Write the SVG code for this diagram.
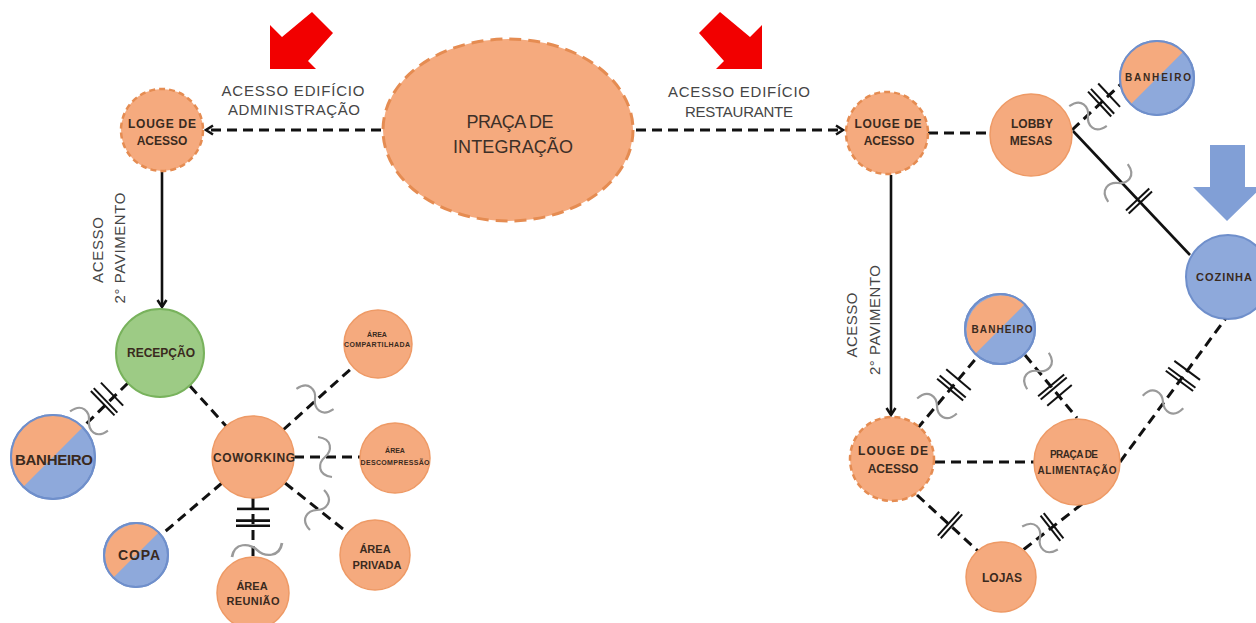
<svg xmlns="http://www.w3.org/2000/svg" width="1256" height="623" viewBox="0 0 1256 623">
<style>
text{font-family:"Liberation Sans",Arial,sans-serif;}
.lbl{fill:#454545;font-size:15px;text-anchor:middle;}
.nt{fill:#3a2a1e;font-weight:bold;text-anchor:middle;}
.or{fill:#F5AA7E;stroke:#EE9A66;stroke-width:1.5;}
.ord{fill:#F5AA7E;stroke:#E58C52;stroke-width:2.5;stroke-dasharray:6 4;}
.bl{fill:#8EA9DB;stroke:#6F8FCB;stroke-width:2;}
.blh{fill:#F5AA7E;stroke:none;}
.gr{fill:#9DCB85;stroke:#78B25C;stroke-width:2;}
.dash{stroke:#111;stroke-width:3;stroke-dasharray:10 6;fill:none;}
.sol{stroke:#111;stroke-width:2.6;fill:none;}
.red{fill:#F20000;}
.barrow{fill:#819FD6;}
</style>
<defs>
<marker id="ah" viewBox="0 0 12 12" refX="10" refY="6" markerWidth="12" markerHeight="12" markerUnits="userSpaceOnUse" orient="auto">
<path d="M3,1.5 L10,6 L3,10.5" fill="none" stroke="#111" stroke-width="2.5"/>
</marker>
<g id="hx" stroke="#111" stroke-width="2">
<line x1="-7" y1="-16" x2="-7" y2="16"/>
<line x1="2" y1="-17" x2="2" y2="17"/>
<line x1="6" y1="-17" x2="6" y2="17"/>
</g>
<g id="h2" stroke="#111" stroke-width="2">
<line x1="-2" y1="-16" x2="-2" y2="16"/>
<line x1="2" y1="-16" x2="2" y2="16"/>
</g>
<path id="sq" d="M -7,-20 C 8,-18 7,-6 0,0 C -7,6 -8,18 7,20" fill="none" stroke="#9a9a9a" stroke-width="2.2"/>
</defs>

<!-- access arrows -->
<g id="arrows">
<polygon class="red" points="270,69 270,25 282,37 312,12 333,33 308,61 316,69"/>
<polygon class="red" points="762,69 762,25 750,37 720,12 699,33 724,61 716,69"/>
<polygon class="barrow" points="1210,145 1245,145 1245,187 1262,187 1227,221 1193,187 1210,187"/>
</g>

<!-- labels -->
<g id="labels">
<text class="lbl" x="293" y="96" textLength="143">ACESSO EDIFÍCIO</text>
<text class="lbl" x="294" y="115" textLength="132">ADMINISTRAÇÃO</text>
<text class="lbl" x="739" y="97" textLength="142">ACESSO EDIFÍCIO</text>
<text class="lbl" x="739" y="117" textLength="108">RESTAURANTE</text>
<text class="lbl" transform="translate(103,250) rotate(-90)" textLength="66">ACESSO</text>
<text class="lbl" transform="translate(125,248) rotate(-90)" textLength="111">2° PAVIMENTO</text>
<text class="lbl" transform="translate(857,325) rotate(-90)" textLength="65">ACESSO</text>
<text class="lbl" transform="translate(880,320) rotate(-90)" textLength="110">2° PAVIMENTO</text>
</g>

<!-- connectors -->
<g id="connectors">
<line class="dash" x1="381" y1="130" x2="206" y2="130" marker-end="url(#ah)"/>
<line class="dash" x1="636" y1="130" x2="843" y2="130" marker-end="url(#ah)"/>
<line class="sol" x1="162" y1="172" x2="162" y2="307" marker-end="url(#ah)"/>
<line class="dash" x1="128" y1="383" x2="83" y2="427"/>
<use href="#hx" transform="translate(107,399) rotate(136)"/>
<use href="#sq" transform="translate(89,421) rotate(136)"/>
<line class="dash" x1="190" y1="386" x2="226" y2="426"/>
<line class="dash" x1="283" y1="430" x2="353" y2="367"/>
<use href="#sq" transform="translate(315,399) rotate(-42)"/>
<line class="dash" x1="294" y1="457" x2="360" y2="457"/>
<use href="#sq" transform="translate(325,457)"/>
<line class="dash" x1="285" y1="483" x2="348" y2="533"/>
<use href="#sq" transform="translate(317,510) rotate(38.7)"/>
<line class="dash" x1="253" y1="498" x2="253" y2="557"/>
<use href="#hx" transform="translate(253,518) rotate(90) scale(1.3,1)"/>
<use href="#sq" transform="translate(257,550) rotate(90) scale(1,1.25)"/>
<line class="dash" x1="222" y1="483" x2="161" y2="535"/>

<line class="dash" x1="928" y1="133" x2="990" y2="133"/>
<line class="dash" x1="1072" y1="130" x2="1121" y2="84"/>
<use href="#hx" transform="translate(1104,100) rotate(137)"/>
<use href="#sq" transform="translate(1088,116) rotate(-43)"/>
<line class="sol" x1="1073" y1="131" x2="1190" y2="255"/>
<use href="#h2" transform="translate(1139,201) rotate(46.7)"/>
<use href="#sq" transform="translate(1118,183) rotate(46.7)"/>
<line class="sol" x1="891" y1="175" x2="891" y2="415" marker-end="url(#ah)"/>
<line class="dash" x1="917" y1="429" x2="978" y2="356"/>
<use href="#hx" transform="translate(954,385) rotate(130)"/>
<use href="#sq" transform="translate(937,406) rotate(-50)"/>
<line class="dash" x1="1025" y1="355" x2="1077" y2="418"/>
<use href="#hx" transform="translate(1055,390) rotate(-130)"/>
<use href="#sq" transform="translate(1038,371) rotate(50)"/>
<line class="dash" x1="935" y1="462" x2="1034" y2="462"/>
<line class="dash" x1="917" y1="495" x2="978" y2="551"/>
<use href="#h2" transform="translate(950,525) rotate(42)"/>
<line class="dash" x1="1082" y1="504" x2="1023" y2="550"/>
<use href="#h2" transform="translate(1052,527) rotate(-38)"/>
<use href="#sq" transform="translate(1040,538) rotate(-38)"/>
<line class="dash" x1="1120" y1="462" x2="1226" y2="318"/>
<use href="#hx" transform="translate(1183,376) rotate(126.6)"/>
<use href="#sq" transform="translate(1163,402) rotate(-53.7)"/>
</g>

<!-- nodes -->
<g id="praca">
<ellipse cx="508" cy="130" rx="125" ry="91" fill="#F5AA7E" stroke="#E58C52" stroke-width="3" stroke-dasharray="12 7"/>
<text class="lbl" x="510" y="128" style="font-size:18px;fill:#3d3028" textLength="87">PRAÇA DE</text>
<text class="lbl" x="513" y="153" style="font-size:18px;fill:#3d3028" textLength="120">INTEGRAÇÃO</text>
</g>
<g id="lounge-adm">
<circle class="ord" cx="162" cy="130" r="41"/>
<text class="nt" x="162" y="128" font-size="12" textLength="68">LOUGE DE</text>
<text class="nt" x="162" y="145" font-size="12">ACESSO</text>
</g>
<g id="recepcao">
<circle class="gr" cx="160" cy="353" r="44"/>
<text class="nt" x="161" y="357" font-size="12" textLength="68">RECEPÇÃO</text>
</g>
<g id="banheiro-adm">
<circle class="bl" cx="53" cy="457" r="42"/>
<path class="blh" d="M23.3,486.7 A42,42 0 0 1 82.7,427.3 Z"/>
<circle cx="53" cy="457" r="42" fill="none" stroke="#6F8FCB" stroke-width="2"/>
<text class="nt" x="54" y="465" font-size="15" textLength="78">BANHEIRO</text>
</g>
<g id="coworking">
<circle class="or" cx="253" cy="457" r="41"/>
<text class="nt" x="254" y="462" font-size="12" textLength="82">COWORKING</text>
</g>
<g id="area-compartilhada">
<circle class="or" cx="378" cy="344" r="34"/>
<text class="nt" x="377" y="337" font-size="7">ÁREA</text>
<text class="nt" x="377" y="347" font-size="7" textLength="66">COMPARTILHADA</text>
</g>
<g id="area-descompressao">
<circle class="or" cx="395" cy="458" r="35"/>
<text class="nt" x="395" y="453" font-size="7">ÁREA</text>
<text class="nt" x="395" y="465" font-size="7" textLength="69">DESCOMPRESSÃO</text>
</g>
<g id="area-privada">
<circle class="or" cx="375" cy="555" r="35"/>
<text class="nt" x="375" y="553" font-size="11">ÁREA</text>
<text class="nt" x="377" y="569" font-size="11" textLength="49">PRIVADA</text>
</g>
<g id="area-reuniao">
<circle class="or" cx="253" cy="593" r="36"/>
<text class="nt" x="252" y="590" font-size="11">ÁREA</text>
<text class="nt" x="253" y="605" font-size="11" textLength="53">REUNIÃO</text>
</g>
<g id="copa">
<circle class="bl" cx="136" cy="555" r="32"/>
<path class="blh" d="M113.4,577.6 A32,32 0 0 1 158.6,532.4 Z"/>
<circle cx="136" cy="555" r="32" fill="none" stroke="#6F8FCB" stroke-width="2"/>
<text class="nt" x="139" y="560" font-size="14" textLength="42">COPA</text>
</g>

<g id="lounge-rest">
<circle class="ord" cx="887" cy="133" r="41"/>
<text class="nt" x="888" y="128" font-size="12" textLength="67">LOUGE DE</text>
<text class="nt" x="889" y="145" font-size="12">ACESSO</text>
</g>
<g id="lobby-mesas">
<circle class="or" cx="1031" cy="135" r="41"/>
<text class="nt" x="1032" y="128" font-size="12">LOBBY</text>
<text class="nt" x="1031" y="145" font-size="12">MESAS</text>
</g>
<g id="banheiro-lobby">
<circle class="bl" cx="1157" cy="78" r="37"/>
<path class="blh" d="M1130.8,104.2 A37,37 0 0 1 1183.2,51.8 Z"/>
<circle cx="1157" cy="78" r="37" fill="none" stroke="#6F8FCB" stroke-width="2"/>
<text class="nt" x="1158" y="81" font-size="10" textLength="66">BANHEIRO</text>
</g>
<g id="cozinha">
<circle class="bl" cx="1228" cy="277" r="42"/>
<text class="nt" x="1224" y="281" font-size="11" textLength="56">COZINHA</text>
</g>
<g id="lounge-terreo">
<circle class="ord" cx="892" cy="459" r="42"/>
<text class="nt" x="893" y="455" font-size="12" textLength="70">LOUGE DE</text>
<text class="nt" x="893" y="473" font-size="12">ACESSO</text>
</g>
<g id="banheiro-praca">
<circle class="bl" cx="1000" cy="329" r="35"/>
<path class="blh" d="M975.3,353.7 A35,35 0 0 1 1024.7,304.3 Z"/>
<circle cx="1000" cy="329" r="35" fill="none" stroke="#6F8FCB" stroke-width="2"/>
<text class="nt" x="1002" y="333" font-size="10" textLength="61">BANHEIRO</text>
</g>
<g id="praca-alimentacao">
<circle class="or" cx="1077" cy="462" r="43"/>
<text class="nt" x="1074" y="458" font-size="10" textLength="48">PRAÇA DE</text>
<text class="nt" x="1077" y="474" font-size="10" textLength="79">ALIMENTAÇÃO</text>
</g>
<g id="lojas">
<circle class="or" cx="1001" cy="577" r="35"/>
<text class="nt" x="1002" y="582" font-size="12">LOJAS</text>
</g>
</svg>
